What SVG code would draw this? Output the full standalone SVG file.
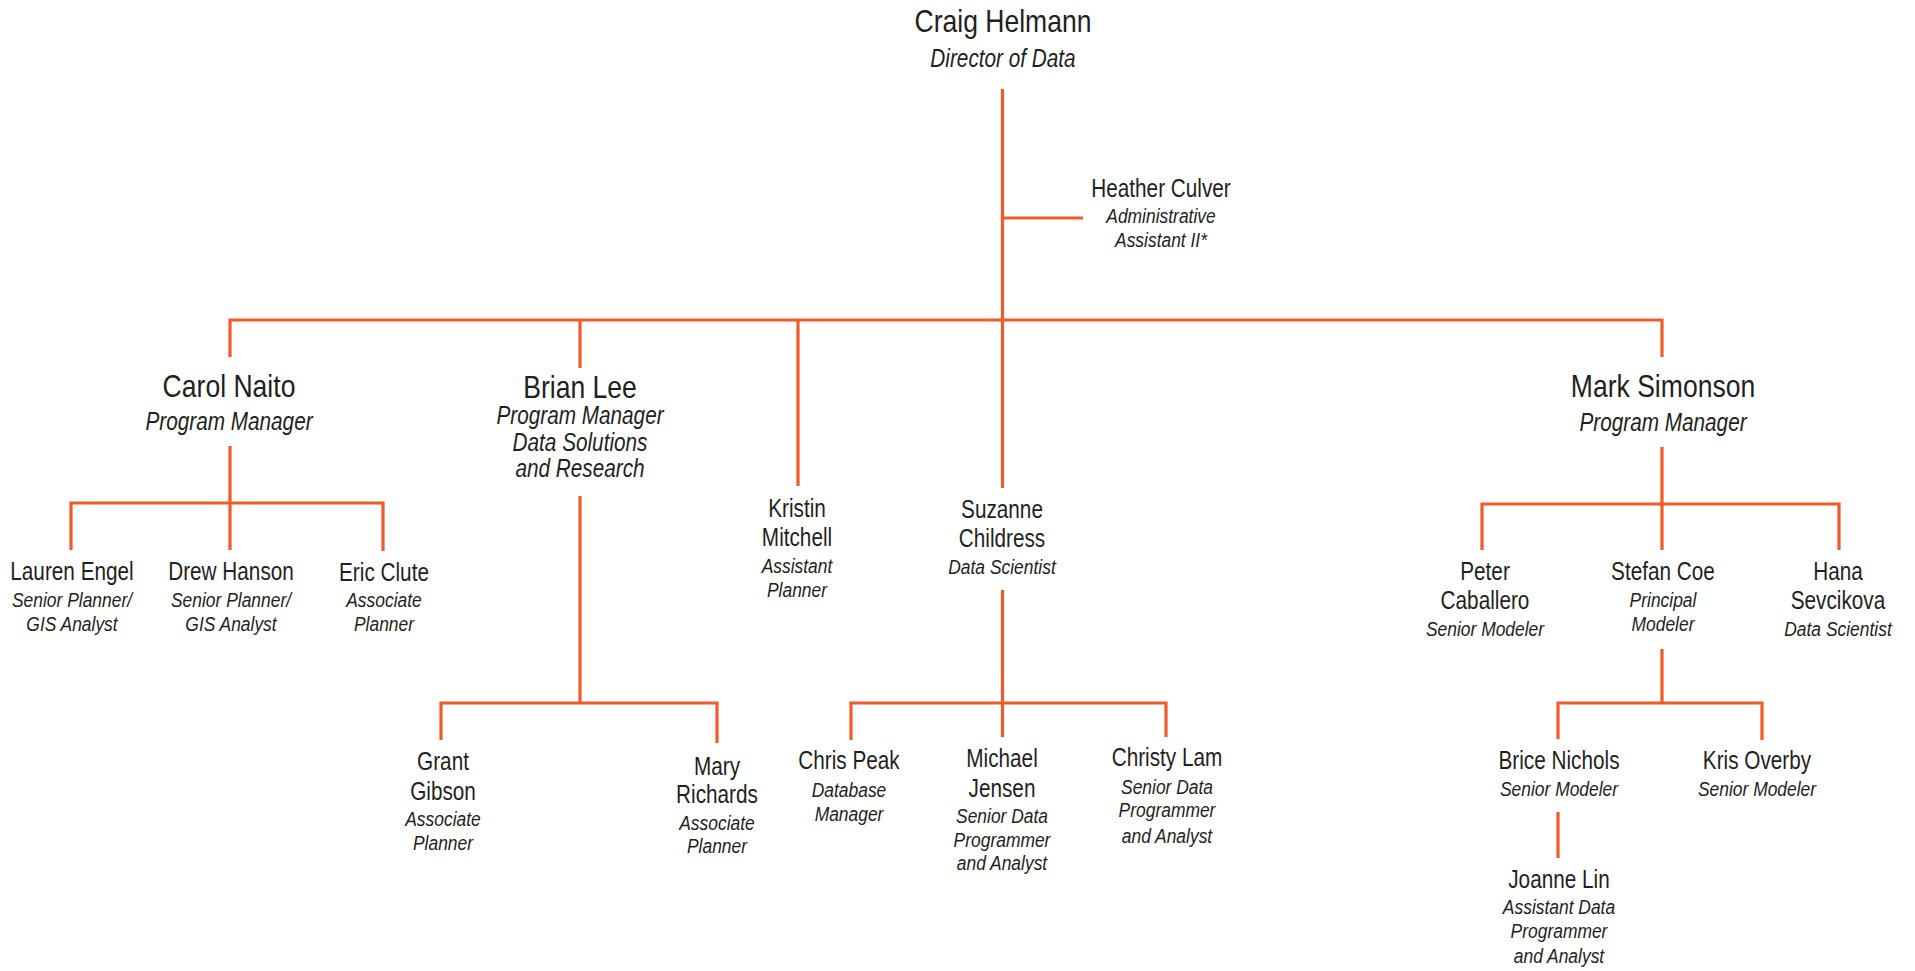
<svg xmlns="http://www.w3.org/2000/svg" width="1915" height="971" viewBox="0 0 1915 971">
<style>
text{font-family:"Liberation Sans",Arial,sans-serif;fill:#231f20;text-anchor:middle}
.n1{font-size:32px}
.t1{font-size:25px;font-style:italic}
.n2{font-size:25px}
.t2{font-size:21px;font-style:italic}
.c{fill:none;stroke:#f15a29;stroke-width:3.2;stroke-linecap:butt;stroke-linejoin:miter}
</style>
<rect width="1915" height="971" fill="#fff"/>
<g id="connectors" class="c">
<path d="M1002.5,89V488"/>
<path d="M1002.5,218H1083"/>
<path d="M230,357V320H1662V357"/>
<path d="M580,320V368"/>
<path d="M798,320V486"/>
<path d="M230,446V503"/>
<path d="M71,550V503H383V551"/>
<path d="M230,503V550"/>
<path d="M580,496V703"/>
<path d="M441,740V703H717V743"/>
<path d="M1002.5,590V703"/>
<path d="M851,740V703H1166V737"/>
<path d="M1002.5,703V737"/>
<path d="M1662,447V504"/>
<path d="M1482,550V504H1839V550"/>
<path d="M1662,504V550"/>
<path d="M1662,649V703"/>
<path d="M1558,739V703H1762V740"/>
<path d="M1558,812V858"/>
</g>
<g id="craig" transform="translate(1003 0) scale(.83 1)"><text class="n1" x="0" y="32">Craig Helmann</text><text class="t1" x="0" y="67">Director of Data</text></g>
<g id="heather" transform="translate(1161 0) scale(.83 1)"><text class="n2" x="0" y="197">Heather Culver</text><text class="t2" x="0" y="223">Administrative</text><text class="t2" x="0" y="247">Assistant II*</text></g>
<g id="carol" transform="translate(229 0) scale(.83 1)"><text class="n1" x="0" y="397">Carol Naito</text><text class="t1" x="0" y="430">Program Manager</text></g>
<g id="brian" transform="translate(580 0) scale(.83 1)"><text class="n1" x="0" y="398">Brian Lee</text><text class="t1" x="0" y="424">Program Manager</text><text class="t1" x="0" y="451">Data Solutions</text><text class="t1" x="0" y="477">and Research</text></g>
<g id="mark" transform="translate(1663 0) scale(.83 1)"><text class="n1" x="0" y="397">Mark Simonson</text><text class="t1" x="0" y="431">Program Manager</text></g>
<g id="lauren" transform="translate(72 0) scale(.83 1)"><text class="n2" x="0" y="580">Lauren Engel</text><text class="t2" x="0" y="607">Senior Planner/</text><text class="t2" x="0" y="631">GIS Analyst</text></g>
<g id="drew" transform="translate(231 0) scale(.83 1)"><text class="n2" x="0" y="580">Drew Hanson</text><text class="t2" x="0" y="607">Senior Planner/</text><text class="t2" x="0" y="631">GIS Analyst</text></g>
<g id="eric" transform="translate(384 0) scale(.83 1)"><text class="n2" x="0" y="581">Eric Clute</text><text class="t2" x="0" y="607">Associate</text><text class="t2" x="0" y="631">Planner</text></g>
<g id="kristin" transform="translate(797 0) scale(.83 1)"><text class="n2" x="0" y="517">Kristin</text><text class="n2" x="0" y="546">Mitchell</text><text class="t2" x="0" y="573">Assistant</text><text class="t2" x="0" y="597">Planner</text></g>
<g id="suzanne" transform="translate(1002 0) scale(.83 1)"><text class="n2" x="0" y="518">Suzanne</text><text class="n2" x="0" y="547">Childress</text><text class="t2" x="0" y="574">Data Scientist</text></g>
<g id="grant" transform="translate(443 0) scale(.83 1)"><text class="n2" x="0" y="770">Grant</text><text class="n2" x="0" y="800">Gibson</text><text class="t2" x="0" y="826">Associate</text><text class="t2" x="0" y="850">Planner</text></g>
<g id="mary" transform="translate(717 0) scale(.83 1)"><text class="n2" x="0" y="775">Mary</text><text class="n2" x="0" y="803">Richards</text><text class="t2" x="0" y="830">Associate</text><text class="t2" x="0" y="853">Planner</text></g>
<g id="chris" transform="translate(849 0) scale(.83 1)"><text class="n2" x="0" y="769">Chris Peak</text><text class="t2" x="0" y="797">Database</text><text class="t2" x="0" y="821">Manager</text></g>
<g id="michael" transform="translate(1002 0) scale(.83 1)"><text class="n2" x="0" y="767">Michael</text><text class="n2" x="0" y="797">Jensen</text><text class="t2" x="0" y="823">Senior Data</text><text class="t2" x="0" y="847">Programmer</text><text class="t2" x="0" y="870">and Analyst</text></g>
<g id="christy" transform="translate(1167 0) scale(.83 1)"><text class="n2" x="0" y="766">Christy Lam</text><text class="t2" x="0" y="794">Senior Data</text><text class="t2" x="0" y="817">Programmer</text><text class="t2" x="0" y="843">and Analyst</text></g>
<g id="peter" transform="translate(1485 0) scale(.83 1)"><text class="n2" x="0" y="580">Peter</text><text class="n2" x="0" y="609">Caballero</text><text class="t2" x="0" y="636">Senior Modeler</text></g>
<g id="stefan" transform="translate(1663 0) scale(.83 1)"><text class="n2" x="0" y="580">Stefan Coe</text><text class="t2" x="0" y="607">Principal</text><text class="t2" x="0" y="631">Modeler</text></g>
<g id="hana" transform="translate(1838 0) scale(.83 1)"><text class="n2" x="0" y="580">Hana</text><text class="n2" x="0" y="609">Sevcikova</text><text class="t2" x="0" y="636">Data Scientist</text></g>
<g id="brice" transform="translate(1559 0) scale(.83 1)"><text class="n2" x="0" y="769">Brice Nichols</text><text class="t2" x="0" y="796">Senior Modeler</text></g>
<g id="kris" transform="translate(1757 0) scale(.83 1)"><text class="n2" x="0" y="769">Kris Overby</text><text class="t2" x="0" y="796">Senior Modeler</text></g>
<g id="joanne" transform="translate(1559 0) scale(.83 1)"><text class="n2" x="0" y="888">Joanne Lin</text><text class="t2" x="0" y="914">Assistant Data</text><text class="t2" x="0" y="938">Programmer</text><text class="t2" x="0" y="963">and Analyst</text></g>
</svg>
